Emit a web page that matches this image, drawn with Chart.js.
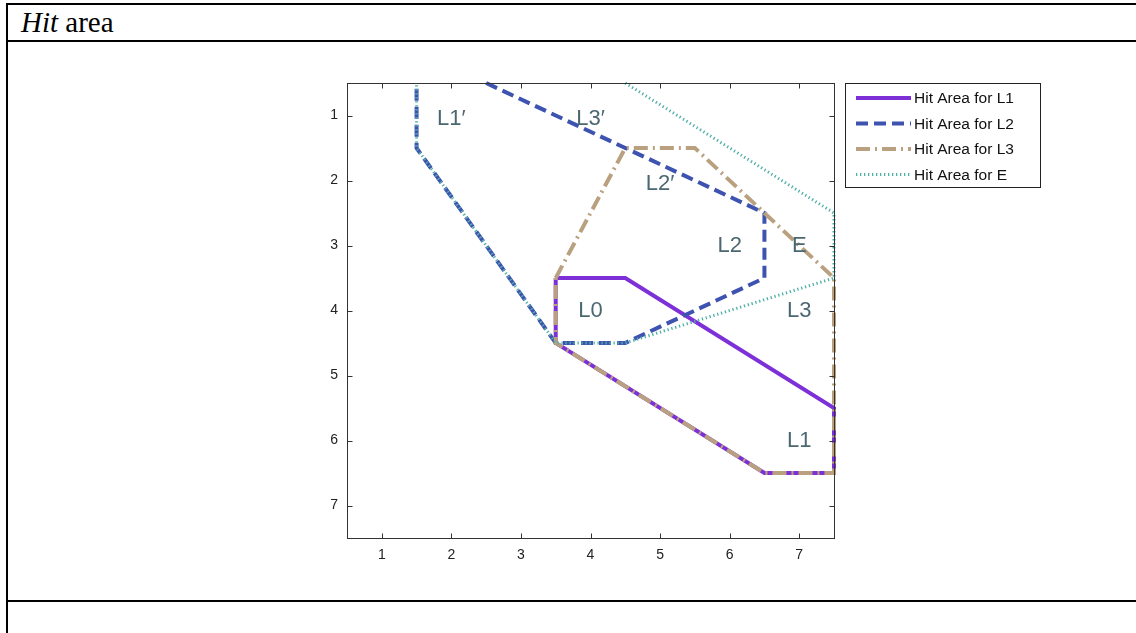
<!DOCTYPE html>
<html>
<head>
<meta charset="utf-8">
<script src="https://cdn.jsdelivr.net/npm/chart.js@4"></script>
<style>
  body { margin: 0; width: 1136px; height: 633px; background: #fff; position: relative; overflow: hidden; }
  .rule { position: absolute; background: #000; }
  #title { position: absolute; left: 21px; top: 7px; font: 29px/30px "Liberation Serif", "Times New Roman", serif; color: #000; }
  #grafik { position: absolute; left: 0; top: 0; }
</style>
</head>
<body>
<div class="rule" style="left:6px;top:3px;width:1130px;height:2px"></div>
<div class="rule" style="left:6px;top:3px;width:2px;height:630px"></div>
<div class="rule" style="left:6px;top:40px;width:1130px;height:2px"></div>
<div class="rule" style="left:6px;top:600px;width:1130px;height:2px"></div>
<div id="title"><i>Hit</i> area</div>
<canvas id="grafik" width="1136" height="633"></canvas>
<script>
// polygon corners of each hit area (x, y)
const l1X = [3.5, 4.5, 7.5, 7.5, 6.5, 3.5, 3.5];
const l1Y = [3.5, 3.5, 5.5, 6.5, 6.5, 4.5, 3.5];
const l2X = [2.5, 6.5, 6.5, 4.5, 3.5, 1.5, 1.5];
const l2Y = [0.5, 2.5, 3.5, 4.5, 4.5, 1.5, 0.5];
const l3X = [3.5, 4.5, 5.5, 6.5, 7.5, 7.5, 6.5, 3.5, 3.5];
const l3Y = [3.5, 1.5, 1.5, 2.5, 3.5, 6.5, 6.5, 4.5, 3.5];
const eX = [4.5, 7.5, 7.5, 4.5, 3.5, 1.5, 1.5];
const eY = [0.5, 2.5, 3.5, 4.5, 4.5, 1.5, 0.5];

const seriesNames = ['Hit Area for L1', 'Hit Area for L2', 'Hit Area for L3', 'Hit Area for E'];

// region labels inside the plot
const labelText = ['L1\u2032', 'L3\u2032', 'L2\u2032', 'L2', 'E', 'L0', 'L3', 'L1'];
const labelX = [2.0, 4.0, 5.0, 6.0, 7.0, 4.0, 7.0, 7.0];
const labelY = [1.05, 1.05, 2.05, 3.0, 3.0, 4.0, 4.0, 6.0];

const xTicks = [1, 2, 3, 4, 5, 6, 7];
const yTicks = [1, 2, 3, 4, 5, 6, 7];

const noktalar = (xs, ys) => xs.map((v, i) => ({ x: v, y: ys[i] }));

const stiller = [
  { color: '#7d30d8', width: 4, dash: [] },
  { color: '#3e52b0', width: 4, dash: [12, 6] },
  { color: '#b9a17f', width: 4, dash: [14, 5, 2, 5] },
  { color: '#4fb0a6', width: 3, dash: [1.3, 2.7] }
];

const veriler = [noktalar(l1X, l1Y), noktalar(l2X, l2Y), noktalar(l3X, l3Y), noktalar(eX, eY)];

const datasets = veriler.map((d, i) => ({
  label: seriesNames[i],
  data: d,
  showLine: true,
  borderColor: stiller[i].color,
  borderWidth: stiller[i].width,
  borderDash: stiller[i].dash,
  pointRadius: 0,
  fill: false,
  tension: 0,
  clip: 4,
  order: 4 - i // E on top
}));

// frame with inward ticks on all four sides, plus labels and legend
const cerceve = {
  id: 'cerceve',
  afterDatasetsDraw(chart) {
    const { ctx, scales: { x, y } } = chart;
    ctx.save();
    ctx.fillStyle = '#4b6872';
    ctx.font = '22px "Liberation Sans", Arial, sans-serif';
    ctx.textAlign = 'center';
    ctx.textBaseline = 'middle';
    labelText.forEach((t, i) => {
      ctx.fillText(t, x.getPixelForValue(labelX[i]), y.getPixelForValue(labelY[i]));
    });
    ctx.restore();
  },
  afterDraw(chart) {
    const { ctx, chartArea: a, scales: { x, y } } = chart;
    ctx.save();
    ctx.strokeStyle = '#333';
    ctx.lineWidth = 1;
    const L = Math.round(a.left) + 0.5, R = Math.round(a.right) + 0.5;
    const T = Math.round(a.top) + 0.5, B = Math.round(a.bottom) + 0.5;
    ctx.strokeRect(L, T, R - L, B - T);
    ctx.beginPath();
    xTicks.forEach(v => {
      const px = Math.round(x.getPixelForValue(v)) + 0.5;
      ctx.moveTo(px, B); ctx.lineTo(px, B - 5);
      ctx.moveTo(px, T); ctx.lineTo(px, T + 5);
    });
    yTicks.forEach(v => {
      const py = Math.round(y.getPixelForValue(v)) + 0.5;
      ctx.moveTo(L, py); ctx.lineTo(L + 5, py);
      ctx.moveTo(R, py); ctx.lineTo(R - 5, py);
    });
    ctx.stroke();

    // legend box
    const lx = 845.5, ly = 83.5, lw = 195, lh = 104;
    ctx.fillStyle = '#fff';
    ctx.fillRect(lx, ly, lw, lh);
    ctx.strokeStyle = '#222';
    ctx.strokeRect(lx, ly, lw, lh);
    ctx.font = '15.5px "Liberation Sans", Arial, sans-serif';
    ctx.textBaseline = 'middle';
    ctx.textAlign = 'left';
    seriesNames.forEach((n, i) => {
      const ry = 98 + i * 25.5;
      const s = stiller[i];
      ctx.save();
      ctx.strokeStyle = s.color;
      ctx.lineWidth = s.width;
      ctx.setLineDash(s.dash);
      ctx.beginPath();
      ctx.moveTo(856, ry); ctx.lineTo(911, ry);
      ctx.stroke();
      ctx.restore();
      ctx.fillStyle = '#111';
      ctx.fillText(n, 914, ry + 1);
    });
    ctx.restore();
  }
};

new Chart(document.getElementById('grafik').getContext('2d'), {
  type: 'scatter',
  data: { datasets: datasets },
  options: {
    responsive: false,
    animation: false,
    layout: { padding: { left: 300, right: 302, top: 83, bottom: 70 } },
    scales: {
      x: {
        type: 'linear',
        min: 0.5,
        max: 7.5,
        afterBuildTicks: s => { s.ticks = xTicks.map(v => ({ value: v })); },
        afterFit: s => { s.height = 25; },
        grid: { display: false, drawTicks: false },
        border: { display: false },
        ticks: { color: '#222', padding: 9, font: { size: 14, family: '"Liberation Sans", Arial, sans-serif' } }
      },
      y: {
        type: 'linear',
        reverse: true,
        min: 0.5,
        max: 7.5,
        afterBuildTicks: s => { s.ticks = yTicks.map(v => ({ value: v })); },
        afterFit: s => { s.width = 47; },
        grid: { display: false, drawTicks: false },
        border: { display: false },
        ticks: { color: '#222', padding: 9, font: { size: 14, family: '"Liberation Sans", Arial, sans-serif' } }
      }
    },
    plugins: {
      legend: { display: false },
      tooltip: { enabled: false }
    }
  },
  plugins: [cerceve]
});
</script>
</body>
</html>
